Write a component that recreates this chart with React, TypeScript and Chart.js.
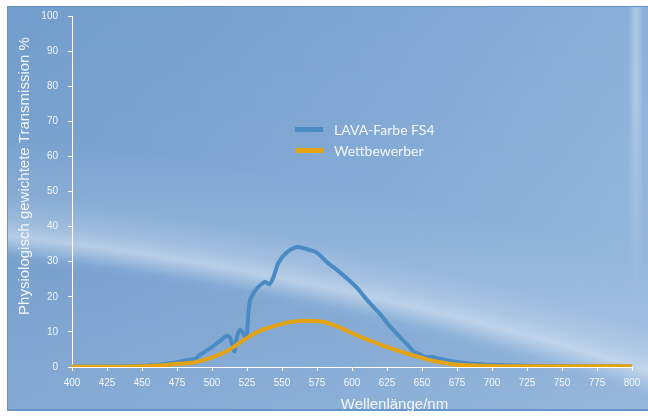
import React, { useEffect, useRef } from "react";
import { Chart, registerables } from "chart.js";

Chart.register(...registerables);

// ---- data ----
const seriesNames = ["LAVA-Farbe FS4", "Wettbewerber"];
const xTitle = "Wellenlänge/nm";
const yTitle = "Physiologisch gewichtete Transmission %";

const xMin = 400;
const xMax = 800;
const xStep = 25;
const yMin = 0;
const yMax = 100;
const yStep = 10;

const lavaNm = [
  400, 420, 440, 450, 460, 470, 475, 480, 485, 489, 491, 495, 499, 503, 507, 510,
  512.5, 514, 516, 517.5, 520, 522, 524.5, 526.5, 529.5, 533, 536, 538, 541, 543.5,
  547, 550, 553, 557, 561, 565, 570, 574, 578, 582, 587, 591, 597, 603, 608, 613,
  618, 622, 627, 632, 636, 640, 644, 648, 653, 656, 659, 663, 668, 675, 684, 695,
  710, 730, 750, 775, 800,
];
const lavaT = [
  0.1, 0.1, 0.2, 0.3, 0.6, 1.0, 1.4, 1.8, 2.1, 2.6, 3.4, 4.4, 5.4, 6.6, 7.8, 8.8,
  8.6, 7.0, 4.4, 8.0, 10.6, 9.8, 8.6, 17.5, 20.9, 22.8, 23.8, 24.2, 23.6, 25.2,
  29.3, 31.2, 32.5, 33.6, 34.2, 33.9, 33.3, 32.8, 31.5, 29.9, 28.4, 27.1, 25.0, 22.8, 20.4, 18.1,
  16.0, 14.2, 11.6, 9.5, 7.8, 6.2, 4.4, 3.7, 2.8, 2.9, 2.7, 2.3, 1.9, 1.4, 1.0, 0.7,
  0.5, 0.3, 0.2, 0.15, 0.1,
];

const compNm = [
  400, 430, 455, 465, 475, 487, 496, 503, 510, 515, 520, 525, 532, 538, 544, 550,
  556, 562, 568, 574, 580, 586, 591, 597, 603, 609, 615, 620, 625, 631, 637, 643,
  649, 655, 661, 667, 672, 684, 700, 730, 760, 800,
];
const compT = [
  0.1, 0.1, 0.3, 0.5, 0.9, 1.3, 2.2, 3.2, 4.4, 5.6, 7.0, 8.3, 9.9, 10.9, 11.6, 12.3,
  12.8, 13.1, 13.2, 13.1, 12.8, 12.1, 11.3, 10.2, 9.1, 8.1, 7.2, 6.4, 5.7, 4.9, 4.1, 3.4,
  2.7, 2.0, 1.5, 1.1, 0.8, 0.5, 0.3, 0.2, 0.2, 0.2,
];

const seriesColors = ["#4a8bc6", "#e3a313"];
const textColor = "#f2f6fb";
const axisColor = "#ffffff";
const tickFont = { family: "'Liberation Sans', Arial, sans-serif", size: 10 };

const overlayPlugin = {
  id: "overlayText",
  afterDraw(chart: any) {
    const ctx = chart.ctx as CanvasRenderingContext2D;
    const area = chart.chartArea;
    ctx.save();
    // legend
    ctx.font = "14px Lato, 'Open Sans', sans-serif";
    ctx.textBaseline = "middle";
    ctx.textAlign = "left";
    seriesNames.forEach((name, i) => {
      const y = area.top + 113.5 + i * 21;
      const x = area.left + 223;
      ctx.fillStyle = seriesColors[i];
      ctx.fillRect(x, y - 2.5, 28, 5);
      ctx.fillStyle = textColor;
      ctx.fillText(name, x + 39, y + 0.5);
    });
    // axis titles
    ctx.font = "15px 'Liberation Sans', Arial, sans-serif";
    ctx.fillStyle = textColor;
    ctx.textAlign = "center";
    ctx.textBaseline = "alphabetic";
    ctx.fillText(xTitle, 394.5, 409);
    ctx.translate(28.5, 176);
    ctx.rotate(-Math.PI / 2);
    ctx.fillText(yTitle, 0, 0);
    ctx.restore();
  },
};

export default function App() {
  const canvasRef = useRef<HTMLCanvasElement | null>(null);

  useEffect(() => {
    const canvas = canvasRef.current;
    if (!canvas) return;
    const chart = new Chart(canvas, {
      type: "line",
      data: {
        datasets: [
          {
            label: seriesNames[0],
            data: lavaNm.map((x, i) => ({ x, y: lavaT[i] })),
            borderColor: seriesColors[0],
            backgroundColor: seriesColors[0],
            borderWidth: 4,
            pointRadius: 0,
            cubicInterpolationMode: "monotone",
            order: 1,
          },
          {
            label: seriesNames[1],
            data: compNm.map((x, i) => ({ x, y: compT[i] })),
            borderColor: seriesColors[1],
            backgroundColor: seriesColors[1],
            borderWidth: 4,
            pointRadius: 0,
            cubicInterpolationMode: "monotone",
            order: 0,
          },
        ],
      },
      options: {
        responsive: false,
        animation: false,
        devicePixelRatio: 1,
        layout: { padding: { left: 0, top: 15, right: 16, bottom: 0 } },
        plugins: {
          legend: { display: false },
          tooltip: { enabled: false },
        },
        scales: {
          x: {
            type: "linear",
            min: xMin,
            max: xMax,
            afterFit: (s: any) => {
              s.height = 49;
            },
            ticks: {
              stepSize: xStep,
              color: textColor,
              font: tickFont,
              padding: 6,
              maxRotation: 0,
              autoSkip: false,
            },
            grid: {
              drawOnChartArea: false,
              drawTicks: true,
              tickLength: 4,
              color: axisColor,
              tickColor: axisColor,
            },
            border: { display: true, color: axisColor, width: 1 },
          },
          y: {
            type: "linear",
            min: yMin,
            max: yMax,
            afterFit: (s: any) => {
              s.width = 72;
            },
            ticks: {
              stepSize: yStep,
              color: textColor,
              font: tickFont,
              padding: 10,
            },
            grid: {
              drawOnChartArea: false,
              drawTicks: true,
              tickLength: 4,
              color: axisColor,
              tickColor: axisColor,
            },
            border: { display: true, color: axisColor, width: 1 },
          },
        },
      },
      plugins: [overlayPlugin],
    });
    return () => chart.destroy();
  }, []);

  return (
    <div
      style={{
        position: "fixed",
        left: 0,
        top: 0,
        width: 648,
        height: 416,
        background: "#ffffff",
        overflow: "hidden",
      }}
    >
      <div
        style={{
          position: "absolute",
          left: 7,
          top: 6,
          width: 641,
          height: 405,
          boxSizing: "border-box",
          borderTop: "1px solid #5f8fc5",
          borderLeft: "1px solid #6a96c8",
          borderBottom: "2px solid #6893c6",
          background: [
            "radial-gradient(circle 3650px at -383px 3645px, rgba(60,100,160,0) 0px, rgba(60,100,160,0) 3300px, rgba(60,100,160,0.05) 3410px, rgba(228,237,248,0) 3418px, rgba(228,237,248,0.55) 3437px, rgba(228,237,248,0.32) 3452px, rgba(228,237,248,0.12) 3478px, rgba(228,237,248,0) 3540px)",
            "linear-gradient(to bottom, rgba(255,255,255,0) 0%, rgba(255,255,255,0.1) 100%)",
            "linear-gradient(100deg, #729dcc 0%, #7fa7d3 55%, #8fb3da 100%)",
          ].join(", "),
        }}
      />
      <div
        style={{
          position: "absolute",
          left: 628,
          top: 7,
          width: 14,
          height: 300,
          background:
            "linear-gradient(to right, rgba(255,255,255,0) 0%, rgba(255,255,255,0.3) 55%, rgba(255,255,255,0.12) 100%)",
          WebkitMaskImage: "linear-gradient(to bottom, black 0%, black 30%, transparent 100%)",
          maskImage: "linear-gradient(to bottom, black 0%, black 30%, transparent 100%)",
        }}
      />
      <canvas
        ref={canvasRef}
        width={648}
        height={416}
        style={{ position: "absolute", left: 0, top: 0, width: 648, height: 416 }}
      />
    </div>
  );
}
